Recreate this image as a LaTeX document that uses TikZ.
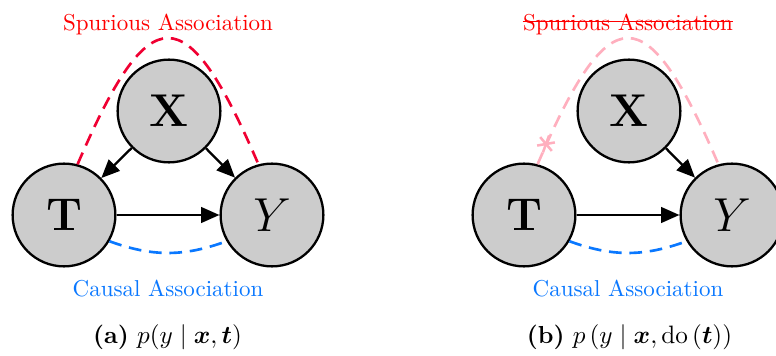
\documentclass[tikz,border=0pt]{standalone}
\usepackage{amsmath}
\usetikzlibrary{arrows.meta}
\definecolor{spur}{RGB}{240,0,50}
\definecolor{causal}{RGB}{10,120,255}
\definecolor{pinkish}{RGB}{255,175,190}
\tikzset{
  var/.style={circle, draw=black, fill=black!20, line width=1pt, minimum size=44.7pt, inner sep=0pt, font=\fontsize{20}{22}\selectfont},
  arr/.style={line width=1pt, -{Triangle[length=8pt,width=6.8pt]}},
  dsh/.style={line width=1.15pt, dash pattern=on 5.5pt off 3.4pt},
  lbl/.style={anchor=base, inner sep=0pt},
  captext/.style={anchor=base, inner sep=0pt, font=\fontsize{10.7}{13}\selectfont},
}
\begin{document}
\begin{tikzpicture}[x=0.435pt, y=0.435pt]
\useasboundingbox (0,0) rectangle (776,-356);
% ---------- (a) ----------
\node[var] (Ta) at (64,-215) {\textbf{T}};
\node[var] (Xa) at (169,-111) {\textbf{X}};
\node[var] (Ya) at (272,-215) {$Y$};
\draw[arr] (Xa) -- (Ta);
\draw[arr] (Xa) -- (Ya);
\draw[arr] (Ta) -- (Ya);
\draw[dsh, spur] (Ta.75) .. controls (150,4) and (186,4) .. (Ya.105);
\draw[dsh, causal] (Ta.-30) to[bend right=20] (Ya.-150);
\node[lbl, text=red] (Sa) at (168,-31) {Spurious Association};
\node[lbl, text=causal] (Ca) at (168,-297) {Causal Association};
\node[captext] (capa) at (167.5,-344) {\textbf{(a)}~$p(y \mid \boldsymbol{x}, \boldsymbol{t})$};
% ---------- (b) ----------
\node[var] (Tb) at (524,-215) {\textbf{T}};
\node[var] (Xb) at (629,-111) {\textbf{X}};
\node[var] (Yb) at (732,-215) {$Y$};
\draw[arr] (Xb) -- (Yb);
\draw[arr] (Tb) -- (Yb);
\draw[dsh, pinkish] (Tb.75) .. controls (610,4) and (646,4) .. (Yb.105);
\coordinate (mk) at (546,-144);
\draw[pinkish, line width=1.1pt] (mk) ++(70:9) -- ++(250:18);
\draw[pinkish, line width=1.1pt] (mk) ++(10:9) -- ++(190:18);
\draw[pinkish, line width=1.1pt] (mk) ++(-50:9) -- ++(130:18);
\draw[dsh, causal] (Tb.-30) to[bend right=20] (Yb.-150);
\node[lbl, text=red] (Sb) at (628,-31) {Spurious Association};
\draw[red, line width=0.5pt] ([yshift=0.95ex]Sb.base west) -- ([yshift=0.95ex]Sb.base east);
\node[lbl, text=causal] (Cb) at (628,-297) {Causal Association};
\node[captext] (capb) at (629.5,-344) {\textbf{(b)}~$p\left(y \mid \boldsymbol{x}, \mathrm{do}\left(\boldsymbol{t}\right)\right)$};
\end{tikzpicture}
\end{document}
